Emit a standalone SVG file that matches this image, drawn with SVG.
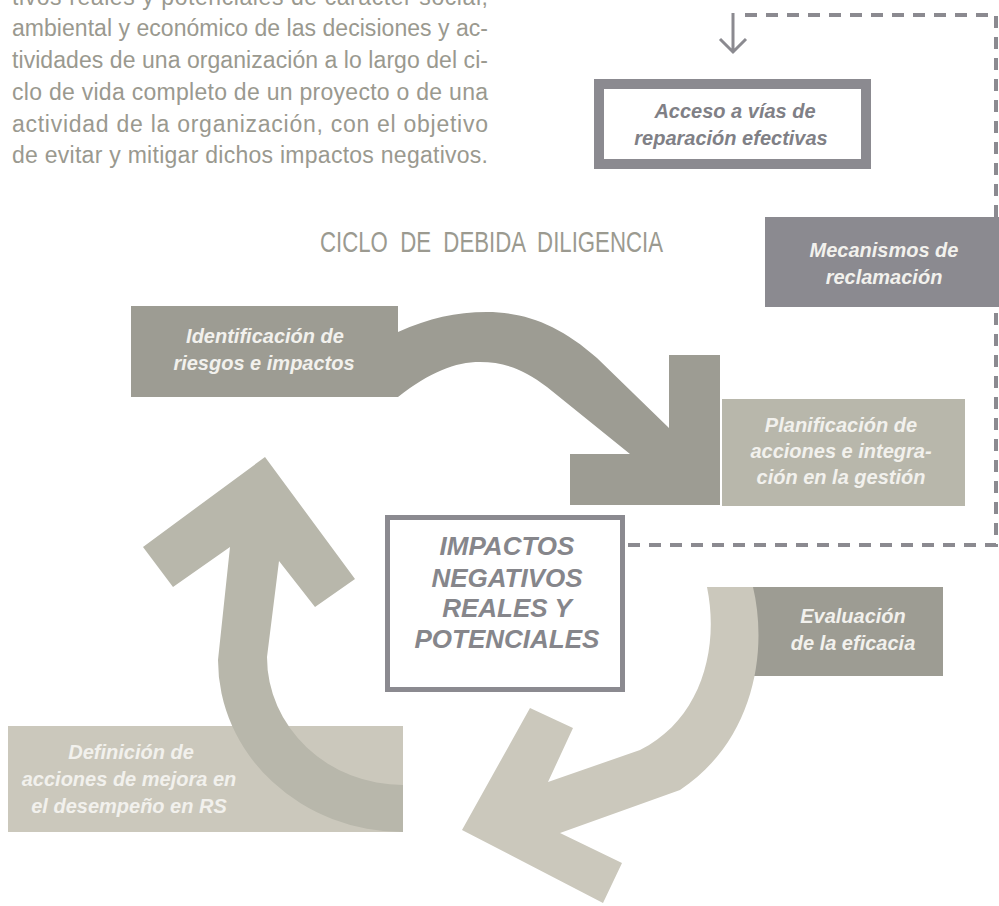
<svg xmlns="http://www.w3.org/2000/svg" width="999" height="906" viewBox="0 0 999 906">
<style>
.para{font-family:"Liberation Sans",Arial,sans-serif;font-size:23px;fill:#9a998f}
.title{font-family:"Liberation Sans",Arial,sans-serif;font-size:29px;fill:#9b9a90;word-spacing:8px}
.lbl{font-family:"Liberation Sans",Arial,sans-serif;font-size:20px;font-style:italic;font-weight:bold;text-anchor:middle}
.lt{fill:#f2f1ed}
.dk{fill:#808086}
.core{font-family:"Liberation Sans",Arial,sans-serif;font-size:26px;font-style:italic;font-weight:bold;fill:#86868b;text-anchor:middle}
.dash{fill:none;stroke:#8b8a90;stroke-width:4;stroke-dasharray:12 9}
</style>
<rect width="999" height="906" fill="#ffffff"/>
<g id="paragraph">
<text class="para" x="12" y="5" textLength="476" lengthAdjust="spacing">tivos reales y potenciales de carácter social,</text>
<text class="para" x="12" y="36" textLength="476" lengthAdjust="spacing">ambiental y económico de las decisiones y ac-</text>
<text class="para" x="12" y="68" textLength="476" lengthAdjust="spacing">tividades de una organización a lo largo del ci-</text>
<text class="para" x="12" y="100" textLength="476" lengthAdjust="spacing">clo de vida completo de un proyecto o de una</text>
<text class="para" x="12" y="132" textLength="476" lengthAdjust="spacing">actividad de la organización, con el objetivo</text>
<text class="para" x="12" y="163" textLength="476" lengthAdjust="spacing">de evitar y mitigar dichos impactos negativos.</text>
</g>
<g id="title">
<text class="title" x="320" y="252" textLength="343" lengthAdjust="spacingAndGlyphs">CICLO DE DEBIDA DILIGENCIA</text>
</g>
<g id="acceso">
<rect x="599" y="84" width="267" height="80" fill="#ffffff" stroke="#8b8a90" stroke-width="10"/>
<text class="lbl dk" x="735" y="118">Acceso a vías de</text>
<text class="lbl dk" x="731" y="145">reparación efectivas</text>
</g>
<g id="mecanismos">
<rect x="765" y="217" width="234" height="90" fill="#8b8a90"/>
<text class="lbl lt" x="884" y="257">Mecanismos de</text>
<text class="lbl lt" x="884" y="284">reclamación</text>
</g>
<g id="identificacion">
<rect x="131" y="306" width="267" height="91" fill="#9d9c93"/>
<text class="lbl lt" x="265" y="343">Identificación de</text>
<text class="lbl lt" x="264" y="370">riesgos e impactos</text>
</g>
<g id="planificacion">
<rect x="722" y="399" width="243" height="107" fill="#b8b7ab"/>
<text class="lbl lt" x="841" y="432">Planificación de</text>
<text class="lbl lt" x="841" y="458">acciones e integra-</text>
<text class="lbl lt" x="841" y="484">ción en la gestión</text>
</g>
<g id="impactos">
<rect x="387.5" y="517.5" width="235" height="172" fill="#ffffff" stroke="#8b8a90" stroke-width="5"/>
<text class="core" x="507" y="555">IMPACTOS</text>
<text class="core" x="507" y="587">NEGATIVOS</text>
<text class="core" x="507" y="617">REALES Y</text>
<text class="core" x="507" y="648">POTENCIALES</text>
</g>
<g id="evaluacion">
<rect x="753" y="587" width="190" height="89" fill="#9d9c93"/>
<text class="lbl lt" x="853" y="623">Evaluación</text>
<text class="lbl lt" x="853" y="650">de la eficacia</text>
</g>
<g id="definicion">
<rect x="8" y="726" width="395" height="106" fill="#cbc8bc"/>
<text class="lbl lt" x="131" y="759">Definición de</text>
<text class="lbl lt" x="129" y="786">acciones de mejora en</text>
<text class="lbl lt" x="129" y="813">el desempeño en RS</text>
</g>
<g id="connectors">
<path class="dash" d="M628,545 H996 V307 M996,217 V15 H740"/>
<path d="M733,13 V52 M720,39 L733,52 L746,39" fill="none" stroke="#8b8a90" stroke-width="3"/>
<path d="M398,332 C430,318 455,312 487,312 C525,312 560,325 597,358 L669,428 L669,355 L720,355 L720,505 L570,505 L570,454 L630,454 L547,387 C525,370 505,362 480,362 C455,362 430,372 398,397 Z" fill="#9d9c93"/>
<path d="M265,457 L355,579 L315,607 L279,561 L267,657 A136,128 0 0 0 403,785 L403,832 A185,172 0 0 1 218,660 L230,547 L173,587 L143,547 Z" fill="#b8b7ab"/>
<path d="M707,587 L753,587 C768,650 755,740 680,790 L560,833 L622,863 L603,903 L462,830 L530,708 L573,728 L548,782 L640,750 C700,720 720,650 707,587 Z" fill="#cbc8bc"/>
</g>
</svg>
